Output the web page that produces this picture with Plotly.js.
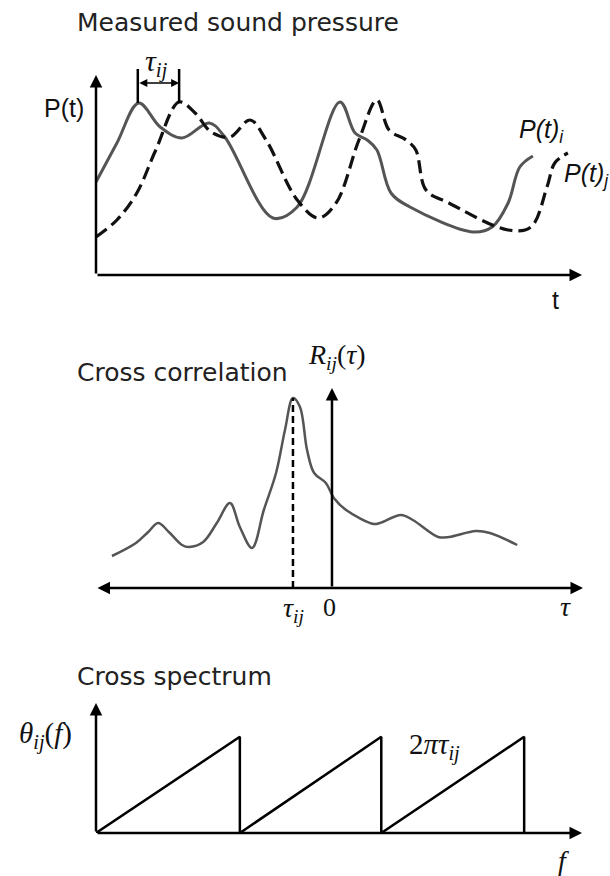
<!DOCTYPE html>
<html>
<head>
<meta charset="utf-8">
<script src="https://cdn.plot.ly/plotly-3.0.1.min.js"></script>
<style>html,body{margin:0;padding:0;background:#fff;}#chart{width:610px;height:876px;}</style>
</head>
<body>
<div id="chart"></div>
<script>
// ---- Panel 1: measured sound pressure (t in arbitrary units, P in arbitrary units)
const t_i = [0, 0.43, 0.88, 1.32, 1.77, 2.33, 2.65, 3.64, 4.14, 5.02, 5.33, 5.58, 5.78, 6.07, 6.46, 7.76, 8.15, 8.48, 8.72, 8.99];
const p_i = [4.65, 6.6, 8.6, 7.4, 6.85, 7.6, 6.9, 2.85, 3.4, 8.65, 7.1, 6.75, 6.25, 4.1, 3.4, 2.15, 2.4, 3.6, 5.4, 5.95];
const t_j = [0, 0.43, 0.84, 1.23, 1.71, 2.04, 2.37, 2.76, 3.17, 3.5, 4.14, 4.57, 4.94, 5.41, 5.78, 6.03, 6.38, 6.58, 6.79, 7.26, 8.48, 8.95, 9.28, 9.44, 9.71];
const p_j = [1.9, 2.75, 4.1, 6.25, 8.65, 8.1, 7.15, 6.9, 7.75, 6.75, 3.75, 2.85, 3.6, 6.75, 8.75, 7.25, 6.75, 6.25, 4.25, 3.6, 2.25, 2.4, 4.4, 5.6, 6.1];
const peak_i = 0.86, peak_j = 1.71;

// ---- Panel 2: cross correlation
const lag = [-4.68, -4.17, -3.91, -3.70, -3.47, -3.19, -3.04, -2.74, -2.45, -2.17, -1.96, -1.70, -1.45, -1.19, -1.0, -0.83, -0.68, -0.53, -0.38, -0.13, 0.04, 0.30, 0.89, 1.02, 1.47, 1.72, 2.26, 2.49, 3.06, 3.36, 3.94];
const Rij = [1.6, 2.25, 2.8, 3.25, 2.8, 2.15, 2.05, 2.3, 3.25, 4.25, 3.05, 2.0, 3.9, 5.75, 7.9, 9.5, 9.05, 6.9, 5.75, 5.25, 4.5, 3.9, 3.2, 3.25, 3.65, 3.4, 2.55, 2.55, 2.85, 2.75, 2.15];
const tau_ij = -0.83, R_peak = 9.5;

// ---- Panel 3: cross spectrum phase (sawtooth)
const freq = [0, 2.96, 2.96, 5.87, 5.87, 8.81, 8.81];
const theta = [0, 7.4, 0, 7.4, 0, 7.4, 0];

const W = 610, H = 876;
const px = v => v / W;
const py = v => 1 - v / H;

const traces = [
  {x: t_i, y: p_i, xaxis: 'x', yaxis: 'y', mode: 'lines', line: {color: '#555', width: 3, shape: 'spline', smoothing: 1}},
  {x: t_j, y: p_j, xaxis: 'x', yaxis: 'y', mode: 'lines', line: {color: '#111', width: 3.2, dash: '13px,6px', shape: 'spline', smoothing: 1}},
  {x: [peak_i, peak_i], y: [8.6, 10.3], xaxis: 'x', yaxis: 'y', mode: 'lines', line: {color: '#000', width: 2.5}},
  {x: [peak_j, peak_j], y: [8.6, 10.3], xaxis: 'x', yaxis: 'y', mode: 'lines', line: {color: '#000', width: 2.5}},
  {x: lag, y: Rij, xaxis: 'x2', yaxis: 'y2', mode: 'lines', line: {color: '#555', width: 2.5, shape: 'spline', smoothing: 1}},
  {x: [tau_ij, tau_ij], y: [0, R_peak], xaxis: 'x2', yaxis: 'y2', mode: 'lines', line: {color: '#000', width: 2.5, dash: '7px,4px'}},
  {x: freq, y: theta, xaxis: 'x3', yaxis: 'y3', mode: 'lines', line: {color: '#000', width: 2.5}}
];

const hid = (dom, rng) => ({domain: dom, range: rng, visible: false, fixedrange: true});

const serif = 'Liberation Serif, DejaVu Serif, serif';
const sans = 'DejaVu Sans, Noto Sans, sans-serif';
const arial = 'Liberation Sans, Arial, sans-serif';

function arrow(xref, yref, x, y, ax, ay, both) {
  return {xref: xref, yref: yref, axref: xref, ayref: yref, x: x, y: y, ax: ax, ay: ay,
    showarrow: true, arrowhead: 2, arrowsize: 1, arrowwidth: 2.5, arrowcolor: '#000',
    arrowside: both ? 'end+start' : 'end', standoff: 0, startstandoff: 0, text: ''};
}
function label(text, x, y, font, size, xanchor, color) {
  return {xref: 'paper', yref: 'paper', x: px(x), y: py(y), text: text, showarrow: false,
    xanchor: xanchor || 'center', yanchor: 'middle', font: {family: font, size: size, color: color || '#111'}};
}

const annotations = [
  // panel 1 axes
  arrow('x', 'y', 0, 10, 0, 0),
  arrow('x', 'y', 10, 0, 0, 0),
  // tau_ij measuring arrow
  Object.assign(arrow('x', 'y', peak_j, 9.6, peak_i, 9.6, true), {arrowwidth: 1.6}),
  // panel 2 axes
  arrow('x2', 'y2', 0, 10, 0, 0),
  arrow('x2', 'y2', 5.34, 0, -5.02, 0, true),
  // panel 3 axes
  arrow('x3', 'y3', 0, 10, 0, 0),
  arrow('x3', 'y3', 10, 0, 0, 0),
  // texts
  label('Measured sound pressure', 75, 23, sans, 25, 'left', '#222'),
  label('P(t)', 64, 108, arial, 25),
  label('t', 555, 300, arial, 25),
  label('<i>P(t)<sub>i</sub></i>', 541, 131, arial, 25),
  label('<i>P(t)<sub>j</sub></i>', 586, 175, arial, 25),
  label('<i>τ<sub>ij</sub></i>', 156, 63, serif, 30),
  label('Cross correlation', 75, 373, sans, 25, 'left', '#222'),
  label('<i>R<sub>ij</sub></i>(<i>τ</i>)', 337, 357, serif, 28),
  label('<i>τ<sub>ij</sub></i>', 293, 609, serif, 28),
  label('0', 329, 607, serif, 26),
  label('<i>τ</i>', 565, 606, serif, 28),
  label('Cross spectrum', 75, 676, sans, 25, 'left', '#222'),
  label('<i>θ<sub>ij</sub></i>(<i>f</i>)', 45, 735, serif, 29),
  label('2<i>πτ<sub>ij</sub></i>', 434, 746, serif, 29),
  label('<i>f</i>', 563, 860, serif, 28)
];

const layout = {
  width: W, height: H, margin: {l: 0, r: 0, t: 0, b: 0},
  paper_bgcolor: '#fff', plot_bgcolor: 'rgba(0,0,0,0)', showlegend: false,
  xaxis: hid([px(96), px(582)], [0, 10]),
  yaxis: hid([py(275), py(55)], [0, 11]),
  xaxis2: hid([px(96), px(583)], [-5.02, 5.34]),
  yaxis2: hid([py(588), py(388)], [0, 10]),
  xaxis3: hid([px(96), px(582)], [0, 10]),
  yaxis3: hid([py(833), py(703)], [0, 10]),
  annotations: annotations
};

Plotly.newPlot('chart', traces, layout, {staticPlot: true, displayModeBar: false});
</script>
</body>
</html>
